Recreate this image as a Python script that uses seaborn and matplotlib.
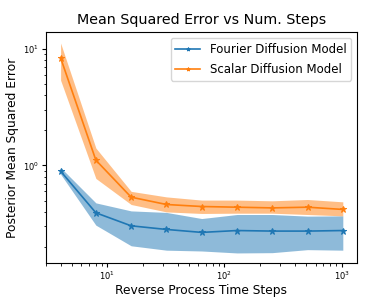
import numpy as np
import pandas as pd
import matplotlib
matplotlib.use("Agg")
import matplotlib.pyplot as plt
import seaborn as sns

# values
steps = [4, 8, 16, 32, 64, 128, 256, 512, 1024]

fourier_mean = [0.894, 0.393, 0.304, 0.283, 0.267, 0.277, 0.274, 0.274, 0.277]
fourier_upper = [0.96, 0.478, 0.408, 0.396, 0.351, 0.38, 0.38, 0.368, 0.37]
fourier_lower = [0.842, 0.308, 0.205, 0.188, 0.185, 0.178, 0.179, 0.19, 0.188]

scalar_mean = [8.36, 1.11, 0.535, 0.463, 0.445, 0.439, 0.433, 0.439, 0.420]
scalar_upper = [11.2, 1.41, 0.60, 0.538, 0.505, 0.505, 0.498, 0.511, 0.488]
scalar_lower = [5.38, 0.774, 0.463, 0.40, 0.388, 0.39, 0.39, 0.38, 0.37]

models = ["Fourier Diffusion Model", "Scalar Diffusion Model"]
colors = ["#1f77b4", "#ff7f0e"]

df = pd.DataFrame({
    "steps": steps * 2,
    "mse": fourier_mean + scalar_mean,
    "model": [models[0]] * len(steps) + [models[1]] * len(steps),
})

fig = plt.figure(figsize=(3.83, 2.97), dpi=100)
ax = fig.add_axes([0.12, 0.1145, 0.812, 0.7775])

ax.fill_between(steps, fourier_lower, fourier_upper, color=colors[0], alpha=0.5, lw=0)
ax.fill_between(steps, scalar_lower, scalar_upper, color=colors[1], alpha=0.5, lw=0)
sns.lineplot(
    data=df, x="steps", y="mse", hue="model", hue_order=models,
    palette=colors, marker="*", markersize=4.5, markeredgecolor=None,
    lw=1.2, ax=ax,
)

ax.set_xscale("log")
ax.set_yscale("log")
ax.set_xlim(3.0, 1352)
ax.set_ylim(0.146, 13.9)
ax.tick_params(which="major", labelsize=6, length=3, pad=2)
ax.tick_params(which="minor", length=1.8)
ax.set_title("Mean Squared Error vs Num. Steps", fontsize=10.3, pad=6)
ax.set_xlabel("Reverse Process Time Steps", fontsize=8.8, labelpad=1)
ax.set_ylabel("Posterior Mean Squared Error", fontsize=8.8, labelpad=3)
ax.legend(loc="upper right", fontsize=8.5, title=None, labelspacing=0.6,
          handlelength=2.1, borderaxespad=0.5, markerscale=0.6)

fig.savefig("out.png", dpi=100)
